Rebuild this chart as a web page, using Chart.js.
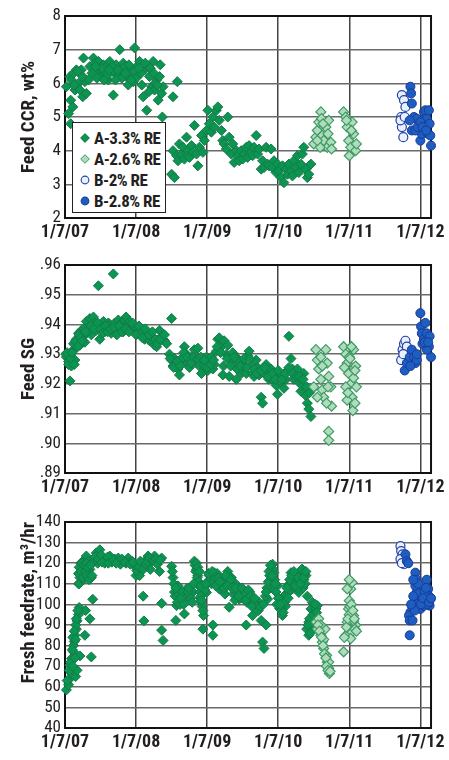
<!DOCTYPE html>
<html>
<head>
<meta charset="utf-8">
<script src="https://cdn.jsdelivr.net/npm/chart.js@4.4.1/dist/chart.umd.min.js"></script>
<style>
  html, body { margin: 0; padding: 0; background: #fff; }
  body { width: 449px; height: 760px; position: relative; overflow: hidden;
         font-family: "Roboto Condensed", "DejaVu Sans Condensed", sans-serif; }
  .panel { position: absolute; left: 0; width: 449px; }
  #legend { position: absolute; left: 72px; top: 122px; width: 94px; height: 91px;
            box-sizing: border-box; border: 1.5px solid #222; background: #fff;
            padding-top: 5px; color: #231f20; font-weight: bold; font-size: 17px; letter-spacing: -0.5px; }
  #legend .row { height: 21px; line-height: 21px; position: relative; padding-left: 21px; white-space: nowrap; }
  #legend .mk { position: absolute; left: 8px; top: 6px; width: 8px; height: 8px; box-sizing: border-box; }
  .dA33 { background: #0a9550; border: 1px solid #17784a; transform: rotate(45deg) scale(0.85); }
  .dA26 { background: #b0dcbc; border: 1px solid #3d9b66; transform: rotate(45deg) scale(0.85); }
  .cB2 { background: #e6f2fd; border: 1.2px solid #2a3ea8; border-radius: 50%; transform: scale(1.1); }
  .cB28 { background: #1d5fc0; border: 1px solid #1b3a9a; border-radius: 50%; transform: scale(1.1); }
</style>
</head>
<body>
<div class="panel" style="top:0px;height:250px"><canvas id="ccr"></canvas></div>
<div class="panel" style="top:249px;height:256px"><canvas id="sg"></canvas></div>
<div class="panel" style="top:506px;height:254px"><canvas id="feed"></canvas></div>
<div id="legend">
  <div class="row"><span class="mk dA33"></span>A-3.3% RE</div>
  <div class="row"><span class="mk dA26"></span>A-2.6% RE</div>
  <div class="row"><span class="mk cB2"></span>B-2% RE</div>
  <div class="row"><span class="mk cB28"></span>B-2.8% RE</div>
</div>
<script>
// x values are years after 1/7/07
const dateLabels = ["1/7/07", "1/7/08", "1/7/09", "1/7/10", "1/7/11", "1/7/12"];

// Feed CCR, wt%
const ccrA33T = [0.02,0.05,0.07,0.08,0.08,0.09,0.11,0.12,0.14,0.16,0.19,0.21,0.23,0.25,0.26,0.28,0.30,0.33,0.35,0.40,
  0.42,0.44,0.47,0.49,0.51,0.54,0.56,0.58,0.61,0.63,0.65,0.68,0.70,0.72,0.75,0.77,0.79,0.82,0.84,0.86,
  0.89,0.91,0.94,0.96,0.98,1.01,1.03,1.05,1.08,1.10,1.12,1.15,1.17,1.19,1.22,1.24,1.26,1.29,1.31,1.34,
  1.36,1.37,1.38,1.52,1.58,0.38,0.45,0.52,0.60,0.66,0.74,0.80,0.90,0.97,1.00,1.07,1.13,1.20,1.27,1.33,0.25,0.18,0.13,
  0.43,0.55,0.62,0.71,0.85,0.93,1.04,1.18,1.25,1.30,
  1.50,1.52,1.54,1.57,1.59,1.61,1.64,1.66,1.68,1.71,1.73,1.75,1.78,1.80,1.82,1.85,1.87,1.89,1.92,1.94,
  1.96,1.99,2.01,2.03,2.06,2.08,2.10,2.13,2.15,2.17,2.20,2.22,2.24,2.27,2.29,2.31,2.34,2.36,2.38,2.41,
  2.43,2.45,2.48,2.50,2.52,2.55,2.57,2.59,2.62,2.64,2.66,2.69,2.71,2.73,2.76,2.78,2.80,2.83,2.85,2.87,
  2.90,2.92,2.94,2.97,2.99,3.01,3.04,3.06,3.08,3.11,3.13,3.15,3.18,3.20,3.22,3.25,3.27,3.29,3.32,3.34,
  3.36,3.39,3.41,3.43,3.46];
const ccrA33 = [5.9,5.1,6.2,5.5,4.8,6.1,5.3,6.3,5.8,6.4,6.0,5.8,6.4,5.6,6.75,6.05,5.7,6.1,6.5,6.75,
  6.6,6.35,6.65,6.45,6.2,6.55,6.3,6.5,6.1,6.65,6.4,5.65,6.3,6.55,6.2,7.0,6.35,6.6,6.5,6.2,
  5.95,6.4,6.25,6.05,7.05,6.5,6.3,6.65,5.95,5.6,6.4,5.2,6.5,6.2,5.9,6.65,5.8,6.1,5.5,6.55,
  5.7,5.0,5.9,5.6,6.05,6.3,6.15,6.45,6.25,6.5,6.4,6.15,6.55,6.35,6.15,6.3,6.6,6.45,6.0,6.2,6.2,6.35,5.95,
  6.5,6.1,6.4,6.1,6.3,6.1,6.45,5.75,6.3,5.95,
  3.3,4.0,3.2,3.85,3.7,4.2,3.9,4.1,3.75,4.4,4.0,3.8,4.15,3.95,4.75,3.9,3.55,4.1,4.45,3.95,
  4.3,4.6,5.2,4.8,4.55,5.0,4.7,5.2,5.3,4.9,4.6,4.3,4.2,4.05,5.0,4.4,3.9,4.2,3.65,4.0,
  3.85,3.7,4.0,3.75,3.9,4.1,3.8,4.15,3.95,3.85,4.1,4.45,3.9,4.05,3.45,3.7,3.5,4.1,3.6,3.55,
  4.05,3.5,3.7,3.35,3.6,3.4,3.2,3.55,3.05,3.45,3.3,3.6,3.4,3.25,3.7,3.5,3.85,3.35,3.6,3.9,
  4.1,3.45,3.2,3.3,3.6];
const ccrA26T = [3.50,3.53,3.55,3.57,3.60,3.61,3.62,3.64,3.67,3.69,3.71,3.74,3.75,3.59,3.55,3.63,3.70,
  3.92,3.95,3.97,3.99,4.00,4.02,4.04,4.06,4.09,4.10,3.96,4.03];
const ccrA26 = [4.2,4.4,4.6,4.85,5.15,4.95,4.45,4.3,4.7,4.1,4.9,4.25,4.05,4.1,4.3,4.8,4.5,
  5.15,5.0,4.7,4.3,3.85,4.1,4.85,4.5,4.0,4.2,4.9,4.6];
const ccrB2T = [4.74,4.77,4.73,4.74,4.76,4.79,4.72,4.78];
const ccrB2 = [5.65,5.5,5.0,4.7,4.4,5.3,4.9,5.0];
const ccrB28T = [4.86,4.87,4.88,4.91,4.88,4.95,4.98,5.00,5.02,5.05,5.07,5.09,5.11,5.12,5.13,5.15,5.14,4.93,4.85,4.96,5.00,5.03,5.08];
const ccrB28 = [5.9,5.7,5.4,5.0,4.6,4.95,4.75,4.3,4.5,5.15,5.2,4.95,4.5,5.2,4.8,4.15,4.45,4.6,4.9,4.7,4.85,4.7,4.6];

// Feed SG
const sgA33T = [0.02,0.05,0.07,0.09,0.12,0.14,0.16,0.19,0.21,0.23,0.26,0.28,0.30,0.33,0.35,0.37,0.40,0.42,0.44,0.47,
  0.49,0.51,0.54,0.56,0.58,0.61,0.63,0.65,0.68,0.70,0.72,0.75,0.77,0.79,0.82,0.84,0.86,0.89,0.91,0.94,
  0.96,0.98,1.01,1.03,1.05,1.08,1.10,1.12,1.15,1.17,1.19,1.22,1.24,1.26,1.29,1.31,1.33,1.36,1.38,1.40,1.43,
  0.32,0.36,0.41,0.46,0.50,0.53,0.57,0.60,0.64,0.69,0.73,0.76,0.80,0.85,0.90,0.95,1.00,1.04,1.09,1.13,
  1.18,1.23,1.27,1.30,1.34,1.40,0.01,0.03,0.05,0.08,0.10,0.12,0.13,0.15,0.18,0.20,0.22,0.24,0.27,0.29,
  1.50,
  1.47,1.50,1.52,1.54,1.57,1.59,1.61,1.64,1.66,1.68,1.71,1.73,1.75,1.78,1.80,1.82,1.85,1.87,1.89,1.92,
  1.94,1.96,1.99,2.01,2.03,2.06,2.08,2.10,2.13,2.15,2.17,2.20,2.22,2.24,2.27,2.29,2.31,2.34,2.36,2.38,
  2.41,2.43,2.45,2.48,2.50,2.52,2.55,2.57,2.59,2.62,2.64,2.66,2.69,2.71,2.73,2.76,2.78,2.80,2.83,2.85,
  2.87,2.90,2.92,2.94,2.97,2.99,3.01,3.04,3.06,3.08,3.11,3.13,3.15,3.18,3.20,3.22,3.25,3.27,3.29,3.32,
  3.34,3.36,3.39,3.41,3.43,3.46,3.47,
  1.48,1.53,1.58,1.62,1.67,1.72,1.77,1.81,1.87,1.91,1.96,2.00,2.05,2.09,2.14,2.19,2.23,2.28,2.33,2.38,
  2.42,2.47,2.52,2.56,2.60,2.66,2.70,2.76,2.81,2.86,2.92,2.96,3.00,3.05,3.10,3.15,3.20,3.26,3.30,3.35,3.40,3.44];
const sgA33 = [.929,.9275,.921,.926,.9315,.928,.935,.937,.933,.938,.936,.934,.941,.939,.942,.9365,.9425,.9405,.938,.953,
  .935,.9395,.941,.9375,.938,.9405,.940,.937,.957,.9405,.938,.9415,.9385,.9405,.9375,.9415,.9425,.940,.941,.939,
  .938,.939,.9385,.9375,.938,.936,.9375,.935,.9365,.935,.9345,.9355,.934,.933,.9325,.9345,.938,.936,.935,.9345,.9335,
  .9375,.9395,.9385,.9405,.9385,.937,.9395,.9375,.9385,.939,.9365,.9395,.9375,.9385,.9375,.9405,.9365,.9395,.9355,.9385,
  .9365,.9375,.935,.9335,.935,.9365,.930,.9305,.9265,.9285,.9305,.9335,.9265,.9345,.9325,.9365,.9355,.9345,.9385,.9375,
  .942,
  .930,.928,.926,.9285,.927,.925,.923,.928,.929,.9325,.930,.927,.9255,.929,.928,.9315,.927,.932,.926,.9235,
  .928,.926,.929,.9245,.927,.929,.925,.9265,.931,.935,.9355,.9325,.923,.9345,.930,.933,.9225,.9275,.9305,.926,
  .9215,.9285,.925,.9235,.927,.9255,.9235,.9295,.931,.926,.9235,.9225,.928,.9255,.923,.9155,.9135,.9235,.9265,.9245,
  .9215,.925,.9215,.9235,.9195,.9165,.9225,.9205,.923,.9185,.9215,.9245,.936,.9285,.925,.9215,.923,.925,.9205,.9175,
  .9195,.9235,.916,.9135,.9115,.909,.918,
  .9285,.9255,.9275,.926,.9305,.929,.927,.929,.9285,.929,.928,.9255,.9265,.928,.9325,.9305,.926,.9285,.926,.929,
  .925,.926,.9285,.9255,.9285,.925,.9235,.9245,.9255,.9225,.9235,.9215,.9245,.9215,.9235,.9255,.9235,.9225,.9225,.9215,.919,.917];
const sgA26T = [3.53,3.55,3.57,3.60,3.62,3.64,3.67,3.69,3.71,3.74,3.75,3.55,3.50,3.60,3.62,3.68,3.70,3.71,3.71,
  3.92,3.95,3.97,3.99,4.02,4.04,4.05,4.06,4.09,4.10,4.08,3.95,3.97,4.00,4.03,4.06,3.93,3.98,4.01,4.08];
const sgA26 = [.9315,.928,.925,.9215,.918,.9155,.9315,.927,.9225,.919,.9125,.9155,.919,.929,.926,.9135,.919,.904,.901,
  .9325,.930,.927,.9235,.920,.9155,.911,.9315,.926,.919,.9135,.919,.9145,.929,.9325,.922,.9255,.917,.9285,.9245];
const sgB2T = [4.73,4.75,4.77,4.79,4.81,4.76];
const sgB2 = [.928,.9315,.9335,.9345,.9325,.930];
const sgB28T = [4.78,4.81,4.85,4.88,4.91,4.93,4.95,5.00,5.01,5.02,5.05,5.07,5.09,5.12,5.13,5.15,5.09,4.86,4.95,5.03,5.06,5.11];
const sgB28 = [.9245,.927,.929,.9315,.929,.927,.928,.9438,.9393,.937,.935,.9405,.937,.9325,.936,.929,.9315,.926,.930,.9335,.934,.934];

// Fresh feedrate, m3/hr
const feedA33T = [0.02,0.05,0.07,0.09,0.07,0.09,0.12,0.13,0.14,0.16,0.17,0.19,0.20,0.15,0.17,0.21,0.19,0.21,0.23,0.26,
  0.28,0.30,0.33,0.35,0.37,0.29,0.28,0.35,0.37,0.39,0.12,0.15,0.20,0.22,0.26,
  0.44,0.49,0.54,0.58,0.63,0.70,0.75,0.82,0.89,0.94,0.98,1.03,1.08,1.12,1.17,1.22,1.26,1.31,1.36,1.10,
  1.11,1.33,1.36,1.36,1.38,0.46,0.56,0.66,0.78,0.86,1.00,1.05,1.20,
  0.40,0.42,0.47,0.51,0.52,0.60,0.61,0.68,0.72,0.80,0.84,0.92,0.96,1.01,1.04,1.06,1.10,1.14,1.16,1.19,1.24,1.28,1.30,1.34,
  0.19,0.20,0.22,0.24,0.25,0.27,0.29,0.30,0.31,0.32,0.34,0.36,0.38,0.03,0.06,0.08,0.10,0.11,0.13,0.15,0.16,0.18,0.14,0.11,
  1.50,1.52,1.54,1.56,1.57,1.59,1.64,1.68,1.71,1.75,1.80,1.82,1.85,1.87,1.89,1.92,1.94,1.95,1.99,2.03,
  2.08,2.08,2.10,2.13,2.17,2.22,2.29,2.31,2.34,2.36,2.41,2.45,2.50,2.55,2.57,2.62,2.64,2.69,2.73,2.76,
  2.78,2.80,2.83,2.85,2.90,2.92,2.94,2.99,3.04,3.06,3.08,3.13,3.18,3.20,3.25,3.29,3.34,3.36,3.39,3.40,
  3.43,3.46,3.48,3.50,3.43,3.53,3.55,1.85,1.90,2.00,2.15,2.25,2.40,2.45,2.60,2.90,3.00,3.10,3.25,3.35,
  1.51,1.53,1.55,1.58,1.60,1.62,1.65,1.70,1.73,1.77,1.79,1.83,1.84,1.86,1.88,1.90,1.91,1.93,1.94,1.97,
  2.01,2.04,2.06,2.11,2.14,2.16,2.19,2.21,2.24,2.27,2.30,2.32,2.37,2.39,2.43,2.47,2.52,2.56,2.59,2.66,
  2.70,2.72,2.82,2.84,2.86,2.88,2.90,2.93,2.95,2.97,3.00,3.02,3.05,3.09,3.11,3.15,3.17,3.21,3.23,3.27,
  3.30,3.32,3.37,3.38,3.44,3.47,3.49,3.52,3.54,
  1.56,1.63,1.67,1.74,1.81,1.85,1.87,1.89,1.91,1.92,1.98,2.02,2.07,2.12,2.18,2.26,2.28,2.33,2.35,2.40,
  2.44,2.49,2.54,2.58,2.61,2.63,2.67,2.75,2.79,2.83,2.87,2.89,2.91,2.96,2.98,3.03,3.07,3.12,3.14,3.16,
  3.19,3.22,3.24,3.28,3.31,3.33,3.36,3.39,3.41,3.42,3.45];
const feedA33 = [58.5,61,64,66.5,70.5,73.7,77,82,85,88,92,95,98.5,65,68,75,110,113,115.5,118,
  122,123.5,121,117,113,97,85,93,74.5,102.5,80,90,110,120,112,
  125,126.5,122.5,122,123.5,122,122.5,121,122.5,121,118.7,116,119.5,121,123.5,121,123.5,121,122.5,104,
  92,116,100.5,87.5,82.5,120,120,120.5,119.5,120,114,114,117,
  121,123,122,124,120.5,123,120,121.5,120,122,120.5,119.5,120.5,116.5,118,121,117,119.5,120.5,122.5,121.5,122,119.5,121.5,
  115,118,116,120,113,119,116,120,114,118,112,119,114,63,68,72,78,84,87,83,93,97,74,70,
  118.5,113,106,92.2,99.4,109,102.6,95.4,107.5,104,106,121,117,114,109,101,88,94.6,105.8,114,
  85,90,115.4,112,107.5,110.6,116,98.6,113,107.5,104,102.6,107.5,90,103.4,100,94.6,98.6,101,92.2,
  81.7,78.6,90,102.6,112,119.5,115.4,109,101,94.6,104,109,115.4,107.5,112,105.8,117,112,114,88,
  91.4,97.8,101,94.6,85,97.8,99.4,110,103,110,111,105,110,108,106,108,100,99,110,108,
  116,110,104,101,105,100,106,103,106,103,101,119,116,113,111,106,104,99,97,107,
  111,112,110,113,115,113,109,111,108,112,114,110,105,102,106,103,105,101,103,101,
  99,97,104,108,111,114,117,117,112,106,103,98,97,101,105,106,110,111,113,108,
  115,112,115,110,93,89,95,100,96,
  108,103,100,108,110,120,118,116,109,102,110,115,116,109,111,114,109,112,108,108,
  104,108,102,107,104,99,103,99,100,106,116,119,114,110,100,100,96,108,103,112,
  114,116,109,113,110,117,113,116,104,90,86];
const feedA26T = [3.53,3.55,3.57,3.60,3.62,3.64,3.66,3.68,3.69,3.71,3.72,3.64,3.71,3.60,
  3.92,3.95,3.97,3.99,4.00,4.02,4.04,4.00,4.06,4.09,4.04,3.97,4.02,4.00,4.06,4.08,
  3.56,3.58,3.61,3.63,3.65,3.67,3.68,3.70,3.73,3.93,3.96,3.98,4.01,4.03,4.05,4.07,4.10];
const feedA26 = [91.4,88,93,85,81.7,78.6,88,75.3,72,69,66.5,83,72,90,
  77,85,91.4,97.8,101.8,107.5,110.6,112,94.6,90,86.6,107.5,83.4,95,92,88,
  90,87,84,80,76,74,70,68,67.5,84,89,93,99,100,97,93,87];
const feedB2T = [4.72,4.73,4.75,4.72,4.77,4.74];
const feedB2 = [128.3,125.9,124.3,122,119.5,120];
const feedB28T = [4.79,4.81,4.83,4.93,4.95,4.98,4.99,5.00,4.92,4.88,4.86,4.84,4.85,4.89,4.85,5.02,5.05,5.07,5.09,5.11,5.12,5.13,5.14,4.95,4.93,4.95,5.06,5.10,
  4.90,4.92,4.97,5.01,5.04,5.08,5.12,5.15,4.87,4.90];
const feedB28 = [124.3,121,120,115.4,112,107.5,102.6,97.8,101,99.4,96.2,94.6,92.2,92.2,85,104,99.4,102.6,112,107.5,104,99.4,102.6,106,109,100,106,100,
  104,97,110,100,103,108,101,103,100,112];

const seriesStyle = {
  "A-3.3% RE": { pointStyle: "rectRot", radius: 5, bg: "#0a9550", border: "#17784a", bw: 1, order: 3 },
  "A-2.6% RE": { pointStyle: "rectRot", radius: 5, bg: "#b0dcbc", border: "#3d9b66", bw: 1.2, order: 2 },
  "B-2% RE": { pointStyle: "circle", radius: 4.5, bg: "#e6f2fd", border: "#2a3ea8", bw: 1.2, order: 1 },
  "B-2.8% RE": { pointStyle: "circle", radius: 4.5, bg: "#1d5fc0", border: "#1b3a9a", bw: 1, order: 0 }
};

function series(label, times, values) {
  const s = seriesStyle[label];
  return {
    label: label,
    data: times.map((t, i) => ({ x: t, y: values[i] })),
    pointStyle: s.pointStyle,
    pointRadius: s.radius,
    pointHoverRadius: s.radius,
    backgroundColor: s.bg,
    borderColor: s.border,
    borderWidth: s.bw,
    order: s.order,
    clip: false
  };
}

Chart.defaults.font.family = '"Roboto Condensed", "DejaVu Sans Condensed", sans-serif';
Chart.defaults.color = "#231f20";

const frame = {
  id: "frame",
  beforeDatasetsDraw(chart) {
    const a = chart.chartArea;
    const ctx = chart.ctx;
    ctx.save();
    ctx.strokeStyle = "#111";
    ctx.lineWidth = 2;
    ctx.strokeRect(a.left, a.top, a.right - a.left, a.bottom - a.top);
    ctx.restore();
  }
};

function createChart(id, title, titleAlign, yMin, yMax, yStep, yFormat, datasets) {
  const ctx = document.getElementById(id).getContext("2d");
  return new Chart(ctx, {
    type: "scatter",
    data: { datasets: datasets },
    plugins: [frame],
    options: {
      responsive: true,
      maintainAspectRatio: false,
      animation: false,
      events: [],
      layout: { padding: { top: 16, right: 16, left: 0, bottom: 0 } },
      plugins: { legend: { display: false }, tooltip: { enabled: false } },
      scales: {
        x: {
          type: "linear",
          min: 0,
          max: 5.15,
          afterFit: (s) => { s.height = 32; },
          border: { display: false },
          grid: { color: "#444", lineWidth: 1.5, drawTicks: false },
          ticks: {
            stepSize: 1,
            includeBounds: false,
            autoSkip: false,
            maxRotation: 0,
            padding: 4,
            font: { size: 18, weight: "bold" },
            callback: (v) => dateLabels[v] ?? ""
          }
        },
        y: {
          min: yMin,
          max: yMax,
          afterFit: (s) => { s.width = 65; },
          border: { display: false },
          grid: { color: "#6a6a6a", lineWidth: 1.5, drawTicks: false },
          ticks: {
            stepSize: yStep,
            autoSkip: false,
            padding: 4,
            font: { size: 17, lineHeight: 1 },
            callback: yFormat
          },
          title: {
            display: true,
            text: title,
            align: titleAlign,
            padding: { top: 18, bottom: 0 },
            font: { size: 19, weight: "bold" }
          }
        }
      }
    }
  });
}

createChart("ccr", "Feed CCR, wt%", "center", 2, 8, 1, (v) => String(v), [
  series("A-3.3% RE", ccrA33T, ccrA33),
  series("A-2.6% RE", ccrA26T, ccrA26),
  series("B-2% RE", ccrB2T, ccrB2),
  series("B-2.8% RE", ccrB28T, ccrB28)
]);

createChart("sg", "Feed SG", "center", 0.89, 0.96, 0.01, (v) => v.toFixed(2).slice(1), [
  series("A-3.3% RE", sgA33T, sgA33),
  series("A-2.6% RE", sgA26T, sgA26),
  series("B-2% RE", sgB2T, sgB2),
  series("B-2.8% RE", sgB28T, sgB28)
]);

createChart("feed", "Fresh feedrate, m³/hr", "end", 40, 140, 10, (v) => String(v), [
  series("A-3.3% RE", feedA33T, feedA33),
  series("A-2.6% RE", feedA26T, feedA26),
  series("B-2% RE", feedB2T, feedB2),
  series("B-2.8% RE", feedB28T, feedB28)
]);
</script>
</body>
</html>
